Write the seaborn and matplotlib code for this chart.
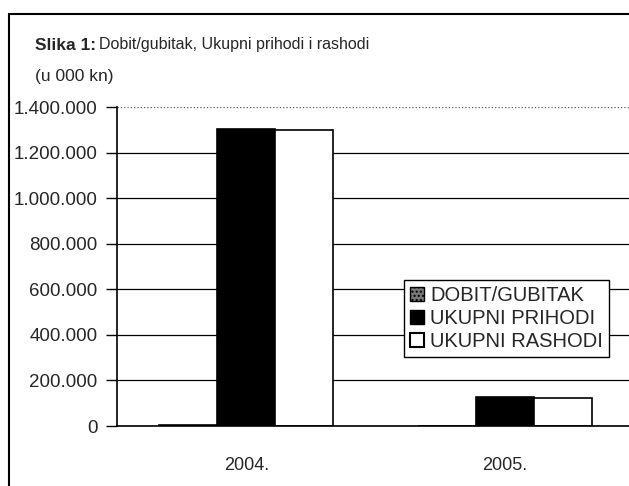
import matplotlib
matplotlib.use('Agg')
import matplotlib.pyplot as plt
from matplotlib.lines import Line2D
from matplotlib.patches import Patch
import seaborn as sns
import pandas as pd

# data (u 000 kn)
years = ['2004.', '2005.']
series = ['DOBIT/GUBITAK', 'UKUPNI PRIHODI', 'UKUPNI RASHODI']
dobit = [3000, 2000]
prihodi = [1303000, 127000]
rashodi = [1300000, 125000]
y_ticks = [0, 200000, 400000, 600000, 800000, 1000000, 1200000, 1400000]

df = pd.DataFrame({
    'godina': years * 3,
    'serija': [s for s in series for _ in years],
    'iznos': dobit + prihodi + rashodi,
})

sns.set_style('white')
plt.rcParams['font.family'] = ['Liberation Sans', 'DejaVu Sans']

fig = plt.figure(figsize=(6.29, 4.86), dpi=100)
ax = fig.add_axes([117 / 629, 1 - 426 / 486, 517 / 629, 319 / 486])

palette = {'DOBIT/GUBITAK': '#7a7a7a', 'UKUPNI PRIHODI': 'black', 'UKUPNI RASHODI': 'white'}
sns.barplot(data=df, x='godina', y='iznos', hue='serija', hue_order=series,
            order=years, palette=palette, width=0.675, edgecolor='black',
            linewidth=1.2, ax=ax, legend=False, saturation=1)

ax.set_xlim(-0.5, 1.5)
ax.set_ylim(0, 1400000)
ax.set_yticks(y_ticks)
ax.set_yticklabels([f'{v:,}'.replace(',', '.') for v in y_ticks], fontsize=13.5)
ax.set_xticks(range(len(years)))
ax.set_xticklabels(years, fontsize=13)
ax.tick_params(axis='x', which='major', length=0, pad=22)
ax.set_xticks([0.5], minor=True)
ax.tick_params(axis='x', which='minor', length=8, width=1.2, direction='out', color='black')
ax.tick_params(axis='y', length=8, width=1, direction='out', color='black', left=True, pad=6)
ax.set_xlabel('')
ax.set_ylabel('')

ax.grid(axis='y', color='black', linewidth=0.9)
ax.set_axisbelow(True)
ax.get_ygridlines()[-1].set_linestyle(':')
ax.get_ygridlines()[-1].set_color('#555555')

for side in ['top', 'right']:
    ax.spines[side].set_visible(False)
for side in ['left', 'bottom']:
    ax.spines[side].set_color('black')
    ax.spines[side].set_linewidth(1.2)

handles = [
    Patch(facecolor='#7a7a7a', edgecolor='black', hatch='....'),
    Patch(facecolor='black', edgecolor='black'),
    Patch(facecolor='white', edgecolor='black', linewidth=1.5),
]
leg = ax.legend(handles, series, loc='upper left', bbox_to_anchor=(0.555, 0.458),
                fontsize=14.5, frameon=True, fancybox=False, handlelength=0.7,
                handleheight=0.7, handletextpad=0.3, labelspacing=0.2,
                borderpad=0.3, borderaxespad=0)
leg.get_frame().set_edgecolor('black')
leg.get_frame().set_linewidth(1.0)
leg.get_frame().set_alpha(1)

# outer frame of the scanned figure
fig.add_artist(Line2D([9 / 629, 9 / 629], [0, 1 - 14 / 486], color='black', lw=1.5))
fig.add_artist(Line2D([9 / 629, 1], [1 - 14 / 486, 1 - 14 / 486], color='black', lw=1.5))

t1 = fig.text(35 / 629, 1 - 45 / 486, 'Slika 1:', fontsize=12.5, fontweight='bold', va='center')
fig.canvas.draw()
bb = t1.get_window_extent()
fig.text((bb.x1 + 3) / 629, 1 - 45 / 486, 'Dobit/gubitak, Ukupni prihodi i rashodi',
         fontsize=11.5, va='center')
fig.text(35 / 629, 1 - 76 / 486, '(u 000 kn)', fontsize=12.5, va='center')

fig.savefig('out.png', dpi=100)
